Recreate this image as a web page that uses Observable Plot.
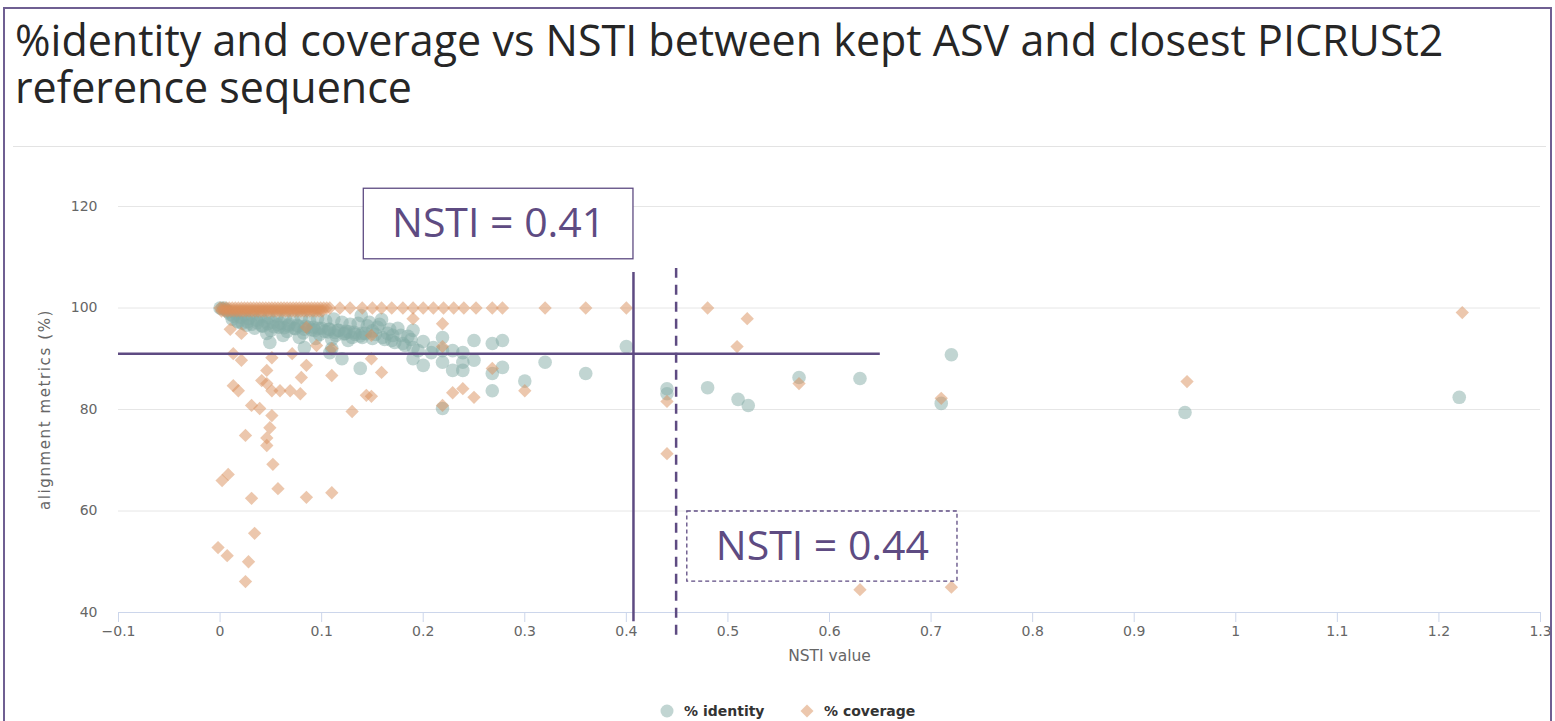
<!DOCTYPE html>
<html>
<head>
<meta charset="utf-8">
<script src="https://cdn.jsdelivr.net/npm/d3@7"></script>
<script src="https://cdn.jsdelivr.net/npm/@observablehq/plot@0.6"></script>
<style>
  html, body { margin: 0; padding: 0; background: #fff; }
  body { width: 1555px; height: 721px; overflow: hidden; position: relative; }
  #frame { position: absolute; left: 3px; top: 7px; width: 1549px; height: 740px; border: 2px solid #6f5f92; border-bottom: none; box-sizing: border-box; }
  .title { position: absolute; left: 15px; height: 46px; font-family: "Open Sans", sans-serif; font-size: 43px; line-height: 46px; color: #262626; white-space: nowrap; }
  #sep { position: absolute; left: 13px; top: 146px; width: 1533px; height: 1px; background: #e3e3e3; }
  #chart { position: absolute; left: 0; top: 147px; }
  #legend { position: absolute; top: 701px; left: 0; width: 1555px; height: 20px; font-family: "DejaVu Sans", sans-serif; font-weight: bold; font-size: 14px; color: #333; }
  #legend .item { position: absolute; top: 0; display: flex; align-items: center; height: 20px; }
  #legend svg { margin-right: 10px; }
  .ylab text { letter-spacing: 1.6px; }
</style>
</head>
<body>
<div id="frame"></div>
<div class="title" style="top:17px">%identity and coverage vs NSTI between kept ASV and closest PICRUSt2</div>
<div class="title" style="top:64px">reference sequence</div>
<div id="sep"></div>
<div id="chart"></div>
<div id="legend"></div>
<script>
// ---- axis ticks ----
const xTicks = [-0.1, 0, 0.1, 0.2, 0.3, 0.4, 0.5, 0.6, 0.7, 0.8, 0.9, 1, 1.1, 1.2, 1.3];
const yTicks = [40, 60, 80, 100, 120];

// ---- series names ----
const seriesNames = ["% identity", "% coverage"];

// ---- % identity (circles) ----
const idX = [
  0, 0.002, 0.004, 0.006, 0.008,
  0.01, 0.013, 0.016, 0.02, 0.024, 0.028, 0.032, 0.036, 0.04, 0.044, 0.048, 0.052, 0.056, 0.06, 0.064, 0.068, 0.072, 0.076, 0.08, 0.084, 0.088, 0.092, 0.096, 0.1, 0.104, 0.108, 0.112, 0.116, 0.12, 0.124, 0.128, 0.132, 0.136, 0.14,
  0.018, 0.026, 0.034, 0.042, 0.05, 0.058, 0.066, 0.074, 0.082, 0.09, 0.098, 0.106, 0.114, 0.122, 0.13, 0.138,
  0.012, 0.017, 0.022, 0.027, 0.031, 0.037, 0.041, 0.047, 0.053, 0.057, 0.063, 0.067, 0.073, 0.077, 0.083, 0.087, 0.093, 0.097, 0.103, 0.107, 0.113, 0.117, 0.123, 0.127, 0.133,
  0.046, 0.062, 0.078, 0.094, 0.11, 0.126,
  0.049, 0.083, 0.11, 0.108, 0.12, 0.138,
  0.143, 0.147, 0.153, 0.157, 0.162, 0.167, 0.172, 0.178, 0.182, 0.188, 0.195,
  0.139, 0.159, 0.14, 0.15, 0.16, 0.169, 0.18, 0.19, 0.19, 0.2, 0.19, 0.208, 0.219, 0.219, 0.219, 0.229, 0.229, 0.239, 0.239, 0.239, 0.25, 0.25, 0.268, 0.268, 0.268, 0.278, 0.278, 0.219,
  0.145, 0.15, 0.155, 0.165, 0.17, 0.175, 0.185, 0.2, 0.21,
  0.30, 0.32, 0.36, 0.40, 0.44, 0.44, 0.48, 0.51, 0.52, 0.57, 0.63, 0.71, 0.72, 0.95, 1.22
];
const idY = [
  100, 99.8, 100, 99.6, 99.2,
  98.8, 98.4, 98.9, 98.2, 98.6, 97.9, 98.5, 97.6, 98.3, 97.4, 98.1, 97.2, 98.4, 97.0, 98.0, 96.8, 97.8, 96.6, 98.2, 96.4, 97.6, 96.2, 97.9, 96.0, 97.5, 95.8, 97.8, 95.6, 97.2, 95.4, 96.8, 95.2, 97.0, 95.0,
  97.2, 96.6, 96.0, 96.4, 95.6, 96.2, 95.4, 95.9, 95.1, 95.7, 94.8, 95.3, 94.6, 94.9, 94.2, 94.5,
  97.8, 97.4, 97.0, 97.3, 96.8, 97.1, 96.5, 96.9, 96.3, 96.7, 96.1, 96.5, 96.0, 96.4, 95.8, 96.2, 95.6, 96.0, 95.4, 95.8, 95.2, 95.6, 95.0, 95.3, 94.8,
  95.0, 94.6, 94.2, 94.0, 93.8, 93.6,
  93.2, 92.2, 92.0, 91.2, 90.0, 88.1,
  95.0, 97.2, 94.8, 96.8, 93.8, 95.8, 93.2, 94.6, 92.6, 93.8, 91.6,
  98.5, 97.7, 94.2, 94.0, 94.2, 93.6, 93.0, 95.6, 92.2, 88.7, 90.0, 91.2, 94.2, 91.6, 89.3, 91.6, 87.7, 91.2, 89.3, 87.7, 93.6, 89.7, 93.0, 87.1, 83.7, 93.6, 88.3, 80.2,
  96.5, 95.5, 96.2, 95.0, 94.6, 96.0, 94.4, 93.4, 92.2,
  85.6, 89.3, 87.1, 92.4, 84.1, 83.1, 84.3, 82.0, 80.8, 86.3, 86.1, 81.2, 90.8, 79.4, 82.4
];

// ---- % coverage (diamonds) ----
const covX = [
  0, 0.003, 0.006, 0.009, 0.012, 0.015, 0.018, 0.021, 0.024, 0.027, 0.03, 0.033, 0.036, 0.039, 0.042, 0.045, 0.048, 0.051, 0.054, 0.057, 0.06, 0.063, 0.066, 0.069, 0.072, 0.075, 0.078, 0.081, 0.084, 0.087, 0.09, 0.093, 0.096, 0.099, 0.102, 0.105,
  0.0015, 0.0045, 0.0075, 0.0105, 0.0135, 0.0165, 0.0195, 0.0225, 0.0255, 0.0285, 0.0315, 0.0345, 0.0375, 0.0405, 0.0435, 0.0465, 0.0495, 0.0525, 0.0555, 0.0585, 0.0615, 0.0645, 0.0675, 0.0705, 0.0735, 0.0765, 0.0795, 0.0825, 0.0855, 0.0885, 0.0915, 0.0945, 0.0975, 0.1005,
  0.108, 0.118, 0.128, 0.14, 0.15, 0.159, 0.169, 0.18, 0.19, 0.2, 0.21, 0.22, 0.23, 0.24, 0.252, 0.268, 0.278, 0.32, 0.36, 0.40, 0.48,
  0.01, 0.021, 0.013, 0.021, 0.051, 0.071, 0.046, 0.041, 0.046, 0.051, 0.059, 0.069, 0.079, 0.013, 0.018, 0.031, 0.039, 0.051, 0.049, 0.025, 0.046, 0.046, 0.052, 0.008, 0.002, 0.057, 0.031, 0.085, 0.11, 0.034, -0.002, 0.007, 0.028, 0.025,
  0.08, 0.085, 0.11, 0.13, 0.085, 0.11, 0.144, 0.095,
  0.19, 0.219, 0.149, 0.219, 0.149, 0.159, 0.149, 0.229, 0.239, 0.25, 0.219, 0.268, 0.30,
  0.44, 0.44, 0.509, 0.519, 0.57, 0.63, 0.71, 0.72, 0.952, 1.223
];
const covY = [
  100, 100, 100, 100, 100, 100, 100, 100, 100, 100, 100, 100, 100, 100, 100, 100, 100, 100, 100, 100, 100, 100, 100, 100, 100, 100, 100, 100, 100, 100, 100, 100, 100, 100, 100, 100,
  99.4, 99.4, 99.4, 99.4, 99.4, 99.4, 99.4, 99.4, 99.4, 99.4, 99.4, 99.4, 99.4, 99.4, 99.4, 99.4, 99.4, 99.4, 99.4, 99.4, 99.4, 99.4, 99.4, 99.4, 99.4, 99.4, 99.4, 99.4, 99.4, 99.4, 99.4, 99.4, 99.4, 99.4,
  100, 100, 100, 100, 100, 100, 100, 100, 100, 100, 100, 100, 100, 100, 100, 100, 100, 100, 100, 100, 100,
  95.8, 95.0, 91.0, 89.7, 90.2, 91.0, 87.7, 85.7, 85.1, 83.7, 83.7, 83.7, 83.1, 84.7, 83.7, 80.8, 80.2, 78.8, 76.4, 74.9, 74.4, 72.9, 69.2, 67.2, 66.0, 64.4, 62.5, 62.7, 63.6, 55.6, 52.8, 51.2, 50.0, 46.1,
  86.3, 88.7, 86.7, 79.6, 96.2, 92.0, 82.8, 92.6,
  97.9, 96.9, 94.6, 92.4, 90.0, 87.3, 82.6, 83.3, 84.1, 82.4, 80.8, 88.1, 83.7,
  81.6, 71.3, 92.4, 97.9, 85.1, 44.5, 82.2, 45.0, 85.5, 99.1
];

// ---- annotations (data units) ----
const nstiCut = [0.407, 0.449];
const nstiLabels = ["NSTI = 0.41", "NSTI = 0.44"];
const hLineY = [91.0];
const hLineX = [-0.1, 0.65];
const vLineSpanSolid = [38.2, 107.0];
const vLineSpanDashed = [35.5, 107.8];
const boxX1 = [0.1415, 0.46];
const boxX2 = [0.407, 0.726];
const boxY1 = [109.6, 46.1];
const boxY2 = [123.5, 59.9];

const purple = "#5e4b82";
const idColor = "#84aca6";
const covColor = "#d98f5c";

const identity = idX.map((x, i) => ({x, y: idY[i]}));
const coverage = covX.map((x, i) => ({x, y: covY[i]}));
const boxes = nstiLabels.map((label, i) => ({label, x1: boxX1[i], x2: boxX2[i], y1: boxY1[i], y2: boxY2[i]}));

const fmt = d => d < 0 ? "\u2212" + Math.abs(d) : String(d);

const chart = Plot.plot({
  width: 1555,
  height: 540,
  marginLeft: 118,
  marginRight: 15,
  marginTop: 59,
  marginBottom: 75,
  style: {fontFamily: "DejaVu Sans, sans-serif", fontSize: "14px", background: "transparent", overflow: "visible"},
  x: {domain: [-0.1, 1.3]},
  y: {domain: [40, 120]},
  marks: [
    Plot.gridY(yTicks, {stroke: "#e6e6e6", strokeOpacity: 1}),
    Plot.ruleY([40], {stroke: "#ccd6eb"}),
    Plot.axisX({ticks: xTicks, tickFormat: fmt, tickSize: 10, tickPadding: 4, stroke: "#ccd6eb", strokeOpacity: 1, fill: "#666", fontSize: 14, label: null}),
    Plot.axisY({ticks: yTicks, tickSize: 0, tickPadding: 21, fill: "#666", fontSize: 14, label: null}),
    Plot.text(["NSTI value"], {frameAnchor: "bottom", dy: 48, fill: "#666", fontSize: 15.5, textAnchor: "middle"}),
    Plot.text(["alignment metrics (%)"], {frameAnchor: "left", dx: -73, rotate: -90, textAnchor: "middle", fill: "#666", fontSize: 15, className: "ylab"}),
    Plot.dot(identity, {x: "x", y: "y", r: 6.8, fill: idColor, fillOpacity: 0.5}),
    Plot.dot(coverage, {x: "x", y: "y", r: 6, symbol: "diamond2", fill: covColor, fillOpacity: 0.5}),
    Plot.ruleY(hLineY, {y: d => d, x1: hLineX[0], x2: hLineX[1], stroke: purple, strokeWidth: 2.5}),
    Plot.ruleX([nstiCut[0]], {x: d => d, y1: vLineSpanSolid[0], y2: vLineSpanSolid[1], stroke: purple, strokeWidth: 2.5}),
    Plot.ruleX([nstiCut[1]], {x: d => d, y1: vLineSpanDashed[0], y2: vLineSpanDashed[1], stroke: purple, strokeWidth: 2.5, strokeDasharray: "10,7"}),
    Plot.rect([boxes[0]], {x1: "x1", x2: "x2", y1: "y1", y2: "y2", fill: "white", stroke: purple, strokeWidth: 1.3}),
    Plot.rect([boxes[1]], {x1: "x1", x2: "x2", y1: "y1", y2: "y2", fill: "white", stroke: purple, strokeWidth: 1.3, strokeDasharray: "4,3"}),
    Plot.text(boxes, {x: d => (d.x1 + d.x2) / 2, y: d => (d.y1 + d.y2) / 2, text: "label", fill: purple, fontSize: 41, fontFamily: "Open Sans, sans-serif"})
  ]
});
document.getElementById("chart").appendChild(chart);

// ---- legend ----
const legend = document.getElementById("legend");
const legendPos = [660, 800];
seriesNames.forEach((name, i) => {
  const item = document.createElement("div");
  item.className = "item";
  item.style.left = legendPos[i] + "px";
  const shape = i === 0
    ? `<svg width="14" height="14"><circle cx="7" cy="7" r="6.5" fill="${idColor}" fill-opacity="0.5"/></svg>`
    : `<svg width="14" height="14"><path d="M7,0.5L13.5,7L7,13.5L0.5,7Z" fill="${covColor}" fill-opacity="0.5"/></svg>`;
  item.innerHTML = shape + `<span>${name}</span>`;
  legend.appendChild(item);
});
</script>
</body>
</html>
